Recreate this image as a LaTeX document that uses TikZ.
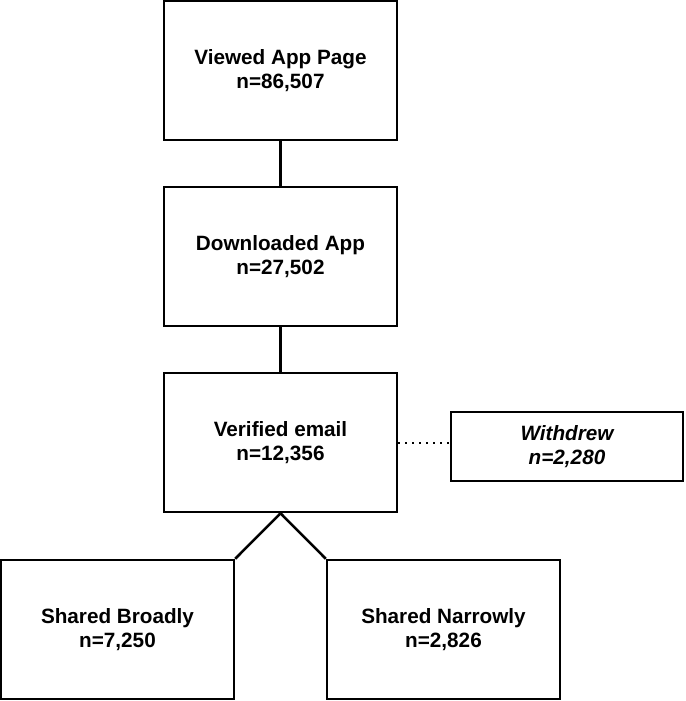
\documentclass[tikz,border=0pt]{standalone}
\usepackage{fontspec}
\setmainfont{Liberation Sans}
\begin{document}
\begin{tikzpicture}[x=1pt,y=-1pt,
    stage/.style={draw,line width=2.5pt,minimum width=233pt,minimum height=139pt,
      inner sep=0pt,align=center,font=\fontsize{20.7}{24.5}\selectfont\bfseries},
    sidebox/.style={stage,minimum width=232pt,minimum height=69pt,
      font=\fontsize{20.7}{24.5}\selectfont\bfseries\itshape}]
      \useasboundingbox (0,0) rectangle (685,701);
      \draw
        (280.5,70.5) node[stage] (viewed){Viewed App Page\\n=86,507}
        (280.5,256.5) node[stage] (downloaded){Downloaded App\\n=27,502}
        (280.5,442.5) node[stage] (verified){Verified email\\n=12,356}
        (567,446.5) node[sidebox] (withdrew){Withdrew\\n=2,280}
        (117.5,629.5) node[stage] (broad){Shared Broadly\\n=7,250}
        (443.5,629.5) node[stage] (narrow){Shared Narrowly\\n=2,826};
      \begin{scope}[line width=2.5pt]
        \draw (viewed) to (downloaded);
        \draw (downloaded) to (verified);
        \draw (verified.south) to (broad.north east);
        \draw (verified.south) to (narrow.north west);
      \end{scope}
      \draw[line width=2pt,dash pattern=on 1.5pt off 5.5pt]
        (verified.east) to (verified.east -| withdrew.west);
    \end{tikzpicture}
\end{document}
